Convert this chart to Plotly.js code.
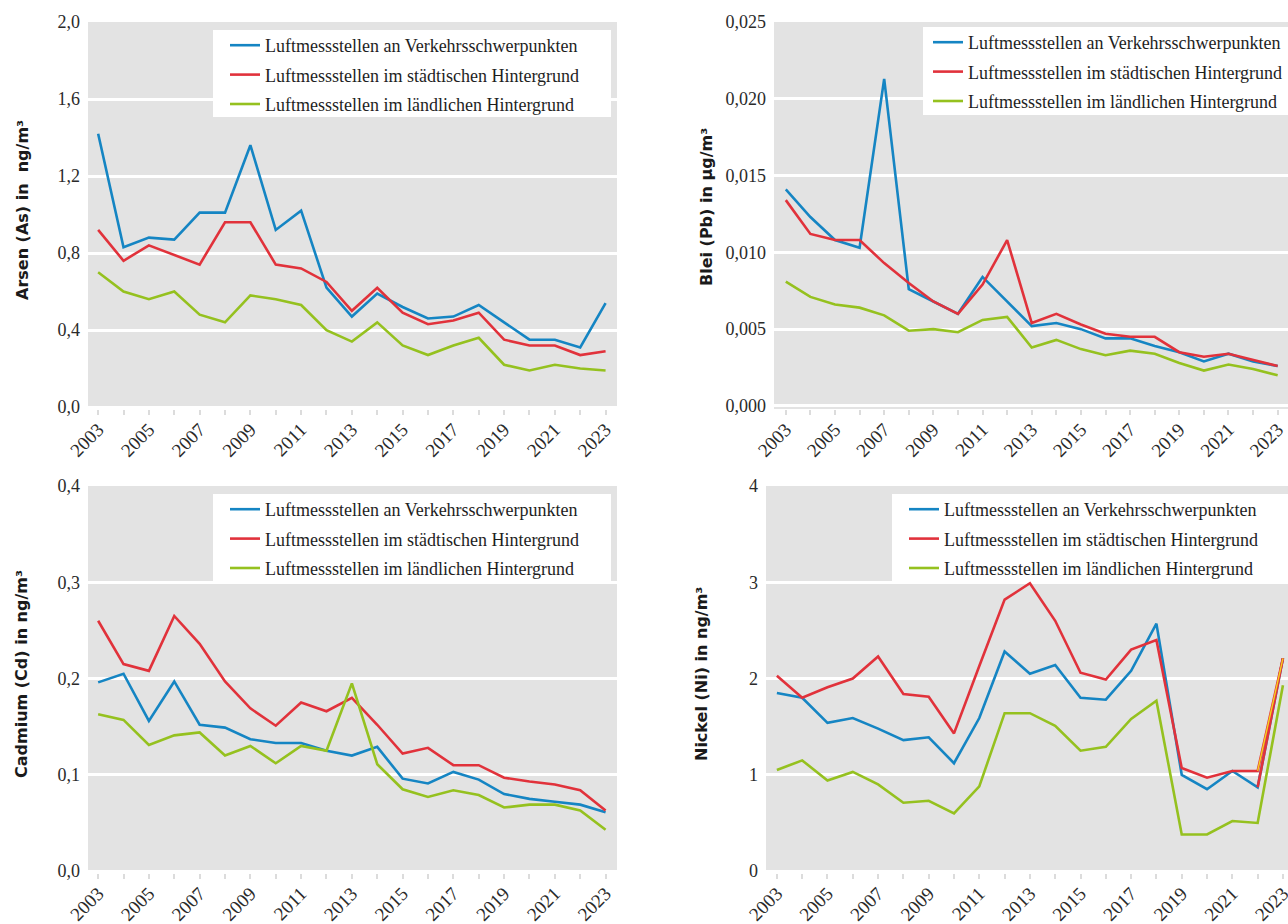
<!DOCTYPE html>
<html>
<head>
<meta charset="utf-8">
<script src="https://cdn.plot.ly/plotly-3.0.1.min.js"></script>
<style>
html,body{margin:0;padding:0;background:#fff;}
#chart{width:1288px;height:924px;}
</style>
</head>
<body>
<div id="chart"></div>
<script>
// ---------- data ----------
const years = [2003,2004,2005,2006,2007,2008,2009,2010,2011,2012,2013,2014,2015,2016,2017,2018,2019,2020,2021,2022,2023];
const seriesNames = ["Luftmessstellen an Verkehrsschwerpunkten","Luftmessstellen im städtischen Hintergrund","Luftmessstellen im ländlichen Hintergrund"];

const asVerkehr  = [1.42,0.83,0.88,0.87,1.01,1.01,1.36,0.92,1.02,0.62,0.47,0.59,0.52,0.46,0.47,0.53,0.44,0.35,0.35,0.31,0.54];
const asStadt    = [0.92,0.76,0.84,0.79,0.74,0.96,0.96,0.74,0.72,0.65,0.50,0.62,0.49,0.43,0.45,0.49,0.35,0.32,0.32,0.27,0.29];
const asLand     = [0.70,0.60,0.56,0.60,0.48,0.44,0.58,0.56,0.53,0.40,0.34,0.44,0.32,0.27,0.32,0.36,0.22,0.19,0.22,0.20,0.19];

const pbVerkehr  = [0.0141,0.0123,0.0108,0.0103,0.0213,0.0076,0.0068,0.0060,0.0084,0.0068,0.0052,0.0054,0.0050,0.0044,0.0044,0.0039,0.0035,0.0029,0.0034,0.0029,0.0026];
const pbStadt    = [0.0134,0.0112,0.0108,0.0108,0.0093,0.0080,0.0068,0.0060,0.0079,0.0108,0.0054,0.0060,0.0053,0.0047,0.0045,0.0045,0.0035,0.0032,0.0034,0.0030,0.0026];
const pbLand     = [0.0081,0.0071,0.0066,0.0064,0.0059,0.0049,0.0050,0.0048,0.0056,0.0058,0.0038,0.0043,0.0037,0.0033,0.0036,0.0034,0.0028,0.0023,0.0027,0.0024,0.0020];

const cdVerkehr  = [0.196,0.205,0.156,0.197,0.152,0.149,0.137,0.133,0.133,0.125,0.120,0.129,0.096,0.091,0.103,0.095,0.080,0.075,0.072,0.069,0.061];
const cdStadt    = [0.260,0.215,0.208,0.265,0.236,0.197,0.169,0.151,0.175,0.166,0.180,0.152,0.122,0.128,0.110,0.110,0.097,0.093,0.090,0.084,0.063];
const cdLand     = [0.163,0.157,0.131,0.141,0.144,0.120,0.130,0.112,0.130,0.125,0.195,0.111,0.085,0.077,0.084,0.079,0.066,0.069,0.069,0.063,0.043];

const niVerkehr  = [1.85,1.80,1.54,1.59,1.48,1.36,1.39,1.12,1.59,2.28,2.05,2.14,1.80,1.78,2.08,2.57,1.00,0.85,1.04,0.87,2.21];
const niStadt    = [2.03,1.80,1.91,2.00,2.23,1.84,1.81,1.43,2.13,2.82,2.99,2.60,2.06,1.99,2.30,2.40,1.07,0.97,1.04,1.04,2.21];
const niLand     = [1.05,1.15,0.94,1.03,0.90,0.71,0.73,0.60,0.88,1.64,1.64,1.51,1.25,1.29,1.58,1.77,0.38,0.38,0.52,0.50,1.93];

const yTitles = ["Arsen (As) in\u00a0 ng/m³","Blei (Pb) in µg/m³","Cadmium (Cd) in ng/m³","Nickel (Ni) in ng/m³"];

// ---------- style ----------
const W = 1288, H = 924;
const colors = ["#1585c3","#e1323b","#95c11f"];
const yellow = "#f5d21e";
const LW = 2.6;
const serif = "Liberation Serif, Times New Roman, serif";

function px(x){return x/W;}
function py(y){return 1 - y/H;}

const panels = [
  {data:[asVerkehr,asStadt,asLand], xa:"x",  ya:"y",  leg:"legend"},
  {data:[pbVerkehr,pbStadt,pbLand], xa:"x2", ya:"y2", leg:"legend2"},
  {data:[cdVerkehr,cdStadt,cdLand], xa:"x3", ya:"y3", leg:"legend3"},
  {data:[niVerkehr,niStadt,niLand], xa:"x4", ya:"y4", leg:"legend4"}
];

const traces = [];
panels.forEach((p, pi) => {
  p.data.forEach((vals, si) => {
    traces.push({
      type:"scatter", mode:"lines", x:years, y:vals,
      xaxis:p.xa, yaxis:p.ya, name:seriesNames[si],
      legend:p.leg, legendgroup:"g"+pi+"_"+si,
      line:{color:colors[si], width:LW}, hoverinfo:"x+y"
    });
    // Nickel: last segments drawn as in the original graphic
    if (pi === 3 && si === 0) {
      traces.push({type:"scatter", mode:"lines", x:years.slice(-2), y:vals.slice(-2),
        xaxis:p.xa, yaxis:p.ya, showlegend:false, line:{color:colors[1], width:LW}, hoverinfo:"skip"});
    }
    if (pi === 3 && si === 1) {
      traces.push({type:"scatter", mode:"lines", x:years.slice(-2), y:vals.slice(-2),
        xaxis:p.xa, yaxis:p.ya, showlegend:false, line:{color:yellow, width:1.4}, hoverinfo:"skip"});
    }
  });
});

function xAxis(domain, range, anchor){
  return {
    domain:domain, range:range, anchor:anchor, tickmode:"linear", tick0:2003, dtick:2,
    tickangle:-45, ticks:"outside", ticklen:5, tickwidth:2, tickcolor:"#dcdcdc",
    minor:{dtick:1, tick0:2003, ticks:"outside", ticklen:5, tickwidth:2, tickcolor:"#dcdcdc", showgrid:false},
    showgrid:false, zeroline:false, showline:false,
    ticklabeloverflow:"allow", ticklabelstandoff:-4,
    tickfont:{family:serif, size:19, color:"#2a2a2a"}, fixedrange:true
  };
}
function yAxis(domain, range, dtick, fmt, anchor){
  return {
    domain:domain, range:range, anchor:anchor, tickmode:"linear", tick0:0, dtick:dtick, tickformat:fmt,
    showgrid:true, gridcolor:"#ffffff", gridwidth:3, zeroline:false, showline:false, ticks:"",
    ticklabelstandoff:7,
    tickfont:{family:serif, size:18, color:"#2a2a2a"}, fixedrange:true
  };
}

const topY = [py(409), py(22)];
const botY = [py(873), py(486)];

function legendAt(x, y){
  return {x:px(x), y:py(y), xanchor:"left", yanchor:"top", bgcolor:"rgba(0,0,0,0)",
    borderwidth:0, font:{family:serif, size:18, color:"#1e1e1e"},
    traceorder:"grouped", tracegroupgap:3, itemwidth:30};
}

function box(x0,y0,x1,y1){
  return {type:"rect", xref:"paper", yref:"paper", x0:px(x0), x1:px(x1), y0:py(y1), y1:py(y0),
    fillcolor:"#ffffff", line:{width:0}, layer:"above"};
}

function ytitle(text, x, y){
  return {text:text, xref:"paper", yref:"paper", x:px(x), y:py(y), xanchor:"center", yanchor:"middle",
    textangle:-90, showarrow:false, font:{family:"DejaVu Sans, sans-serif", size:16, color:"#1a1a1a", weight:"bold"}};
}

const layout = {
  width:W, height:H, margin:{l:0,r:0,t:0,b:0},
  paper_bgcolor:"#ffffff", plot_bgcolor:"#e3e3e3",
  separators:",.",
  showlegend:true,
  xaxis: xAxis([px(88), px(617)], [2002.6, 2023.45], "y"),
  yaxis: yAxis(topY, [-0.01, 2.0], 0.4, ".1f", "x"),
  xaxis2: xAxis([px(774), 1], [2002.52, 2023.42], "y2"),
  yaxis2: yAxis(topY, [-0.0002, 0.025], 0.005, ".3f", "x2"),
  xaxis3: xAxis([px(88), px(617)], [2002.6, 2023.45], "y3"),
  yaxis3: yAxis(botY, [-0.002, 0.4], 0.1, ".1f", "x3"),
  xaxis4: xAxis([px(766), 1], [2002.57, 2023.2], "y4"),
  yaxis4: yAxis(botY, [-0.02, 4], 1, "d", "x4"),
  legend: legendAt(225, 27),
  legend2: legendAt(928, 24),
  legend3: legendAt(225, 491),
  legend4: legendAt(904, 491),
  shapes:[
    box(213,30,611,117),
    box(923,27,1288,115),
    box(213,494,611,581),
    box(892,494,1288,581)
  ],
  annotations:[
    ytitle(yTitles[0], 22, 210),
    ytitle(yTitles[1], 706, 207),
    ytitle(yTitles[2], 21, 674),
    ytitle(yTitles[3], 701, 674)
  ]
};

Plotly.newPlot("chart", traces, layout, {staticPlot:true, displayModeBar:false});
</script>
</body>
</html>
